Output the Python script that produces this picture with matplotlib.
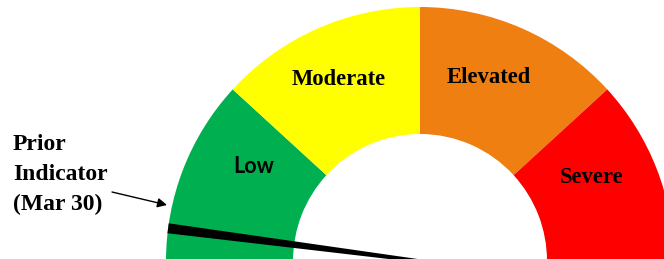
import matplotlib.pyplot as plt
from matplotlib.patches import Wedge, Polygon
import numpy as np

# ------------------------------------------------------------
# Podatki
# ------------------------------------------------------------
zones = ["Low", "Moderate", "Elevated", "Severe"]
zone_spans = [42.5, 47.5, 47.5, 42.5]          # stopinje, skupaj 180
zone_colors = ["#00B050", "#FFFF00", "#F07F12", "#FF0000"]
prior_angle = 172.6                              # položaj kazalca (stopinje)
prior_label = "Prior\nIndicator\n(Mar 30)"

# ------------------------------------------------------------
# Geometrija (enota = piksel)
# ------------------------------------------------------------
r_out = 254
r_in = 127

fig = plt.figure(figsize=(6.64, 2.59), dpi=100)
ax = fig.add_axes([0, 0, 1, 1])
ax.set_xlim(-420, 244)
ax.set_ylim(2, 261)
ax.axis("off")

# pasovi merilnika, od leve (180°) proti desni (0°)
start = 180.0
for span, col in zip(zone_spans, zone_colors):
    end = start - span
    ax.add_patch(Wedge((0, 0), r_out, end, start, width=r_out - r_in,
                       facecolor=col, edgecolor="none"))
    start = end

# napisi pasov (kot, polmer)
label_pos = {"Low": (150.4, 191), "Moderate": (114.0, 199),
             "Elevated": (69.4, 196), "Severe": (26.0, 191)}
for name in zones:
    a, r = label_pos[name]
    x = r * np.cos(np.radians(a))
    y = r * np.sin(np.radians(a))
    if name == "Low":
        ax.text(x, y, name, ha="center", va="center", fontsize=15.5,
                family="Lato", weight="bold", color="black")
    else:
        ax.text(x, y, name, ha="center", va="center", fontsize=16.3,
                family="Liberation Serif", weight="bold", color="black")

# kazalec (prejšnja vrednost)
t = np.radians(prior_angle)
d = np.array([np.cos(t), np.sin(t)])
n = np.array([-np.sin(t), np.cos(t)])
base = d * r_out
tail = d * -10
needle = [base + n * 5.0, base - n * 5.0, tail - n * 1.5, tail + n * 1.5]
ax.add_patch(Polygon(needle, closed=True, facecolor="black", edgecolor="none"))

# opis in puščica
ax.text(-407, 127, prior_label, ha="left", va="top", fontsize=17,
        family="Liberation Serif", weight="bold", linespacing=1.55)
ax.annotate("", xy=(-253, 56), xytext=(-308, 69),
            arrowprops=dict(arrowstyle="-|>", color="black", lw=1,
                            mutation_scale=14, shrinkA=0, shrinkB=0))

fig.savefig("out.png", dpi=100)
